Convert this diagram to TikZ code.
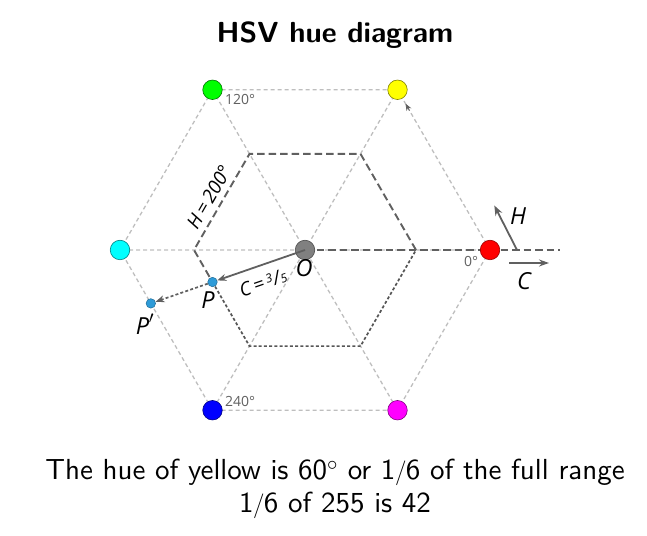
\documentclass[tikz,border=0pt]{standalone}
\usepackage{fontspec}
\newfontfamily\lab{Open Sans}
\newfontfamily\capfont{lmsans10-regular.otf}[BoldFont=lmsans10-bold.otf]
\usetikzlibrary{calc,arrows.meta}
\definecolor{lgray}{HTML}{BEBEBE}
\definecolor{dgray}{HTML}{606060}
\definecolor{pblue}{HTML}{2E9BD8}
\definecolor{cR}{HTML}{FF0000}
\definecolor{cY}{HTML}{FFFF00}
\definecolor{cG}{HTML}{00FF00}
\definecolor{cC}{HTML}{00FFFF}
\definecolor{cB}{HTML}{0000FF}
\definecolor{cM}{HTML}{FF00FF}
\definecolor{cO}{HTML}{808080}
\begin{document}
\begin{tikzpicture}[x=1pt,y=1pt,
  grid/.style={lgray,line width=1.3pt,dash pattern=on 4pt off 3pt},
  hpath/.style={dgray,line width=1.9pt,dash pattern=on 7.5pt off 4pt},
  rest/.style={dgray!90!black,line width=1.7pt,dash pattern=on 3pt off 2.2pt},
  vert/.style={circle,minimum size=19.5pt,inner sep=0pt,line width=0.6pt},
  pt/.style={circle,minimum size=9.5pt,inner sep=0pt,fill=pblue,draw=pblue!70!black,line width=0.5pt},
  deg/.style={text=dgray,font=\lab\fontsize{14}{16}\selectfont,inner sep=0pt},
  lbl/.style={font=\lab\itshape\fontsize{23.5}{26}\selectfont,inner sep=0pt},
  arr/.style={dgray,line width=1.8pt,-{Stealth[length=9pt,width=7pt]}}]
\useasboundingbox (0,0) rectangle (647,535);
\coordinate (O) at (305,285);
\foreach \a/\n in {0/R,60/Y,120/G,180/Cy,240/B,300/M}{
  \coordinate (\n) at ($(O)+(\a:185)$);
  \coordinate (i\a) at ($(O)+(\a:111)$);
}
\coordinate (P) at ($(i180)!0.3333!(i240)$);
\coordinate (Pp) at ($(O)!1.6667!(P)$);
\coordinate (E) at (560,285);
% grid
\draw[grid] (R) -- (Y) -- (G) -- (Cy) -- (B) -- (M) -- cycle;
\draw[grid] (R) -- (Cy) (Y) -- (B) (G) -- (M);
% H path and rest
\draw[hpath] (O) -- (E);
\draw[hpath] (i0) -- (i60) -- (i120) -- (i180) -- (P);
\draw[rest] (P) -- (i240) -- (i300) -- (i0);
% arrow near yellow
\draw[dgray,line width=0.8pt,-{Stealth[length=7pt,width=5.5pt]}] ($(Y)!24pt!(R)$) -- ($(Y)!16pt!(R)$);
% vertex circles
\node[vert,fill=cR,draw=cR!60!black] (nR) at (R) {};
\node[vert,fill=cY,draw=cY!50!black] (nY) at (Y) {};
\node[vert,fill=cG,draw=cG!45!black] (nG) at (G) {};
\node[vert,fill=cC,draw=cC!50!black] (nC) at (Cy) {};
\node[vert,fill=cB,draw=cB!50!black] (nB) at (B) {};
\node[vert,fill=cM,draw=cM!50!black] (nM) at (M) {};
\node[vert,fill=cO,draw=cO!60!black] (nO) at (O) {};
\node[pt] (nP) at (P) {};
\node[pt] (nPp) at (Pp) {};
% chroma arrows
\draw[arr] (nO.center) -- (nP);
\draw[dgray,line width=1.7pt,dash pattern=on 3pt off 2.2pt,-{Stealth[length=9pt,width=7pt]}] (nP) -- (nPp);
% H and C arrows
\coordinate (Ht) at (517,285);
\coordinate (Hh) at ($(Ht)+(117:50)$);
\draw[dgray,line width=1.8pt,-{Stealth[length=10pt,width=7.5pt]}] (Ht) -- (Hh);
\coordinate (Ct) at (509,272);
\coordinate (Ch) at (549,272);
\draw[dgray,line width=1.6pt,-{Stealth[length=10pt,width=7pt]}] (Ct) -- (Ch);
% labels
\node[lbl] (lH) at (518,319) {H};
\node[lbl] (lC) at (524,254) {C};
\node[lbl] (lO) at (304,267) {O};
\node[lbl] (lP) at (208,235) {P};
\node[lbl] (lPp) at (145,211) {P\kern-0.5pt\raisebox{0.2ex}{$'$}};
\node[deg,anchor=west] (d120) at (225,436) {120°};
\node[deg,anchor=west] (d240) at (225,134) {240°};
\node[deg] (d0) at (471,274) {0°};
\node[font=\lab\itshape\fontsize{19}{21}\selectfont,rotate=60,inner sep=0pt] (Hlab) at (209,338) {H\,=\,200°};
\node[font=\lab\itshape\fontsize{19}{21}\selectfont,rotate=19,inner sep=0pt] (Clab) at (263,252) {C\,=\,\raisebox{0.5ex}{\fontsize{12}{13}\selectfont 3}\kern0.3pt/\kern0.3pt\raisebox{-0.05ex}{\fontsize{12}{13}\selectfont 5}};
% title and caption
\node[font=\capfont\bfseries\fontsize{29}{34}\selectfont] (title) at (335,500) {HSV hue diagram};
\node[font=\capfont\fontsize{29}{33}\selectfont] (cap1) at (335,63) {The hue of yellow is 60$^\circ$ or 1\kern-0.5pt$/$\kern-0.5pt6 of the full range};
\node[font=\capfont\fontsize{29}{33}\selectfont] (cap2) at (335,30) {1\kern-0.5pt$/$\kern-0.5pt6 of 255 is 42};
\end{tikzpicture}
\end{document}
